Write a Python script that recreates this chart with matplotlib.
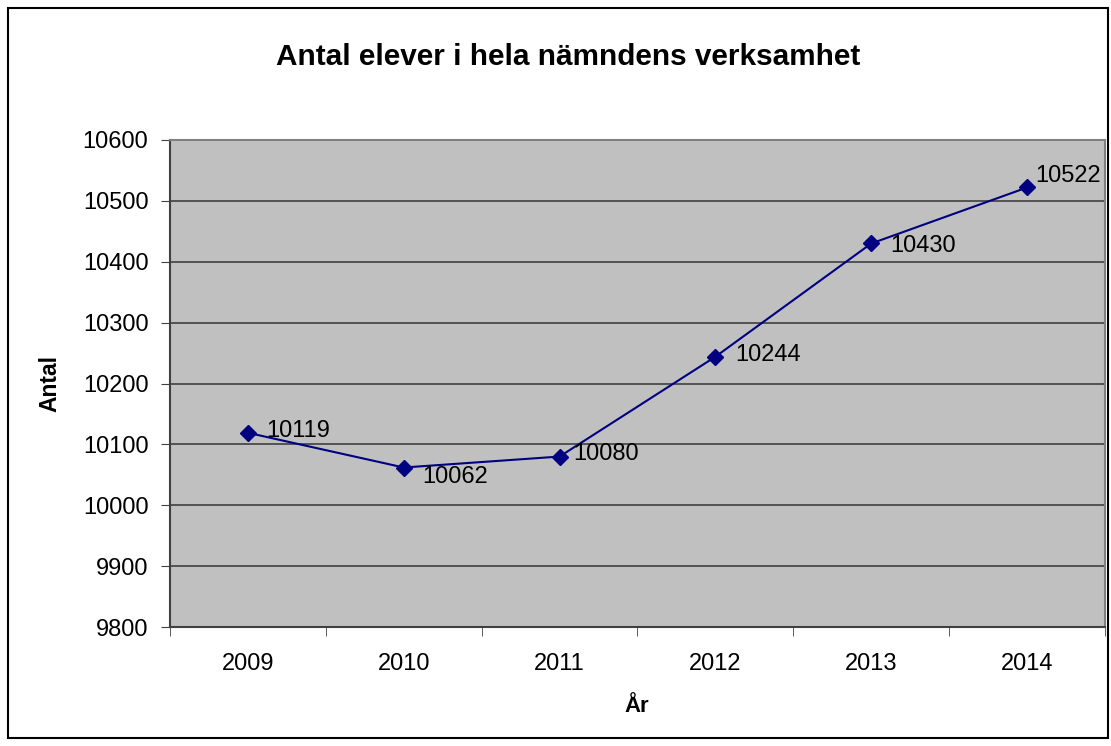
import matplotlib
matplotlib.use("Agg")
import matplotlib.pyplot as plt
from matplotlib.patches import Rectangle

years = ["2009", "2010", "2011", "2012", "2013", "2014"]
antal = [10119, 10062, 10080, 10244, 10430, 10522]
yticks = [9800, 9900, 10000, 10100, 10200, 10300, 10400, 10500, 10600]

# etikettförskjutning i punkter (x, y)
label_offsets = [(13, 1), (13.5, -6.5), (9.5, 1.5), (14, 1.5), (14, -1.5), (6, 8)]

plt.rcParams["font.family"] = ["Liberation Sans", "DejaVu Sans"]

fig = plt.figure(figsize=(11.11, 7.46), dpi=100)
ax = fig.add_axes([170 / 1111, 119 / 746, 935 / 1111, 487 / 746])

# ram runt hela figuren
fig.patches.append(Rectangle((8 / 1111, 8 / 746), 1100 / 1111, 730 / 746,
                             transform=fig.transFigure, fill=False,
                             edgecolor="black", linewidth=1.5))

ax.set_facecolor("#C0C0C0")
x = list(range(len(years)))
ax.plot(x, antal, color="#000080", linewidth=1.5, marker="D", markersize=8,
        zorder=3)

for xi, val, off in zip(x, antal, label_offsets):
    ax.annotate(str(val), (xi, val), xytext=off, textcoords="offset points",
                ha="left", va="center", fontsize=17)

ax.set_xlim(-0.5, len(years) - 0.5)
ax.set_ylim(9800, 10600)
ax.set_yticks(yticks)
ax.set_xticks(x)
ax.set_xticklabels(years)
ax.set_xticks([i - 0.5 for i in range(len(years) + 1)], minor=True)
ax.tick_params(axis="x", which="major", length=0, pad=19, labelsize=17)
ax.tick_params(axis="x", which="minor", length=6.5, color="#404040",
               direction="out")
ax.tick_params(axis="y", length=6.5, color="#404040", labelsize=17, pad=9)

ax.grid(axis="y", color="#404040", linewidth=1.2)
ax.set_axisbelow(True)
for side in ["top", "right"]:
    ax.spines[side].set_color("#808080")
    ax.spines[side].set_linewidth(1.5)
for side in ["left", "bottom"]:
    ax.spines[side].set_color("#404040")
    ax.spines[side].set_linewidth(1.5)

fig.text(568 / 1111, 1 - 57 / 746, "Antal elever i hela nämndens verksamhet",
         ha="center", va="center", fontsize=21.4, fontweight="bold")
fig.text(637 / 1111, 1 - 707 / 746, "År", ha="center", va="center",
         fontsize=16, fontweight="bold")
fig.text(50 / 1111, 1 - 383 / 746, "Antal", ha="center", va="center",
         rotation=90, fontsize=16.5, fontweight="bold")

fig.savefig("out.png", dpi=100)
